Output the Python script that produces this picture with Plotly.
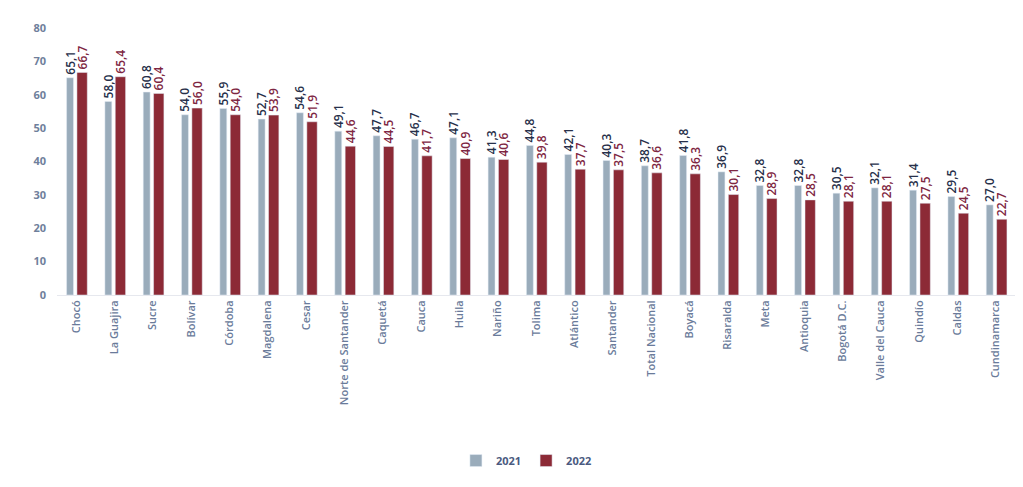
import plotly.graph_objects as go

categories = ["Chocó", "La Guajira", "Sucre", "Bolívar", "Córdoba", "Magdalena", "Cesar",
              "Norte de Santander", "Caquetá", "Cauca", "Huila", "Nariño", "Tolima",
              "Atlántico", "Santander", "Total Nacional", "Boyacá", "Risaralda", "Meta",
              "Antioquia", "Bogotá D.C.", "Valle del Cauca", "Quindío", "Caldas", "Cundinamarca"]
values_2021 = [65.1, 58.0, 60.8, 54.0, 55.9, 52.7, 54.6, 49.1, 47.7, 46.7, 47.1, 41.3, 44.8,
               42.1, 40.3, 38.7, 41.8, 36.9, 32.8, 32.8, 30.5, 32.1, 31.4, 29.5, 27.0]
values_2022 = [66.7, 65.4, 60.4, 56.0, 54.0, 53.9, 51.9, 44.6, 44.5, 41.7, 40.9, 40.6, 39.8,
               37.7, 37.5, 36.6, 36.3, 30.1, 28.9, 28.5, 28.1, 28.1, 27.5, 24.5, 22.7]
series_names = ["2021", "2022"]
y_ticks = [0, 10, 20, 30, 40, 50, 60, 70, 80]


def fmt(v):
    return f"{v:.1f}".replace(".", ",")


fig = go.Figure()
fig.add_trace(go.Bar(
    x=categories, y=values_2021, name=series_names[0],
    marker=dict(color="#9aacbb"),
    text=[fmt(v) for v in values_2021], textposition="outside", textangle=-90,
    textfont=dict(size=12, color="#27304a", family="Open Sans", weight=600),
    cliponaxis=False, width=0.18, offset=-0.25,
))
fig.add_trace(go.Bar(
    x=categories, y=values_2022, name=series_names[1],
    marker=dict(color="#8c2a36"),
    text=[fmt(v) for v in values_2022], textposition="outside", textangle=-90,
    textfont=dict(size=12, color="#7e2642", family="Open Sans", weight=600),
    cliponaxis=False, width=0.27, offset=0.02,
))

fig.update_layout(
    width=1023, height=487,
    margin=dict(l=49, r=16, t=17, b=200),
    paper_bgcolor="white", plot_bgcolor="white",
    barmode="group",
    font=dict(family="Open Sans", color="#6f7f9c"),
    uniformtext=dict(minsize=12, mode="show"),
    showlegend=True,
    legend=dict(orientation="h", x=0.49, xanchor="center", y=-0.62, yanchor="middle",
                font=dict(size=11, color="#4a5a80", weight=700), traceorder="normal"),
    xaxis=dict(tickangle=-90, tickfont=dict(size=11, color="#6a7b9a", weight=600),
               showgrid=False, showline=True, linecolor="#e6e8ee", ticks=""),
    yaxis=dict(range=[0, 80], tickvals=y_ticks, showgrid=False, zeroline=False,
               tickfont=dict(size=11, color="#6f7f9c", weight=700), ticks="", ticklen=0,
               ticklabelstandoff=10),
)

fig.write_html("out.html")
